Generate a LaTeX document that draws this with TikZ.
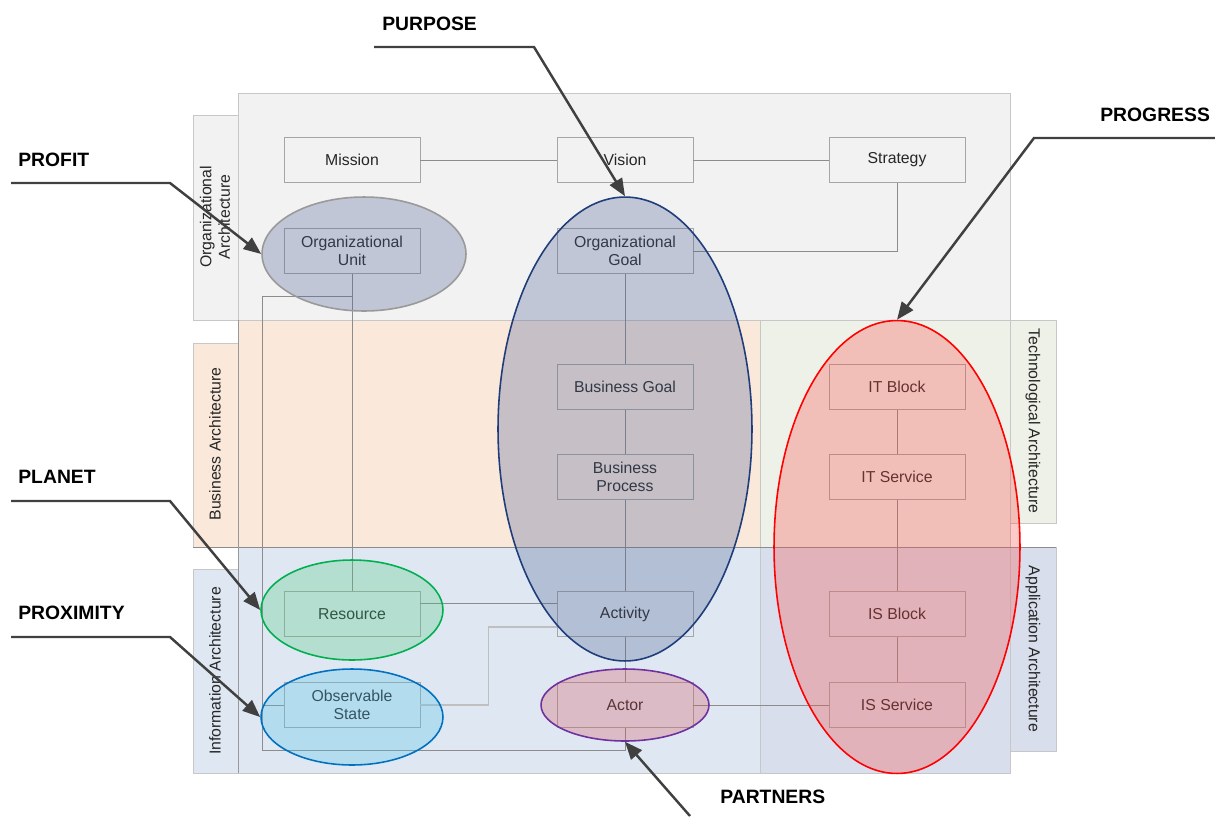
\documentclass[tikz,border=0pt]{standalone}
\usepackage{fontspec}
\setmainfont{Liberation Sans}
\usetikzlibrary{%
  arrows.meta,%
  calc,%
  shapes.geometric%
}
\definecolor{orgbg}{HTML}{F2F2F2}
\definecolor{busbg}{HTML}{FAE8DA}
\definecolor{techbg}{HTML}{EEF1E7}
\definecolor{infobg}{HTML}{DFE8F2}
\definecolor{appbg}{HTML}{D9DEEC}
\definecolor{purposefill}{RGB}{79,99,149}
\definecolor{purposeline}{HTML}{1F3D7A}
\definecolor{progressfill}{RGB}{250,78,74}
\definecolor{planetfill}{RGB}{79,199,132}
\definecolor{planetline}{HTML}{00B050}
\definecolor{proxfill}{RGB}{82,195,235}
\definecolor{proxline}{HTML}{0070C0}
\definecolor{partnerfill}{RGB}{212,85,95}
\definecolor{partnerline}{HTML}{7030A0}
\definecolor{callout}{HTML}{404040}
\tikzset{>={Triangle[length=10pt,width=8pt]}}
\tikzset{
  layer/.style={draw=black!22,line width=0.5pt},
  box/.style={draw=black!35,minimum width=2.72cm,minimum height=0.9cm,
    align=center,inner sep=1pt,text=black!85,font=\fontsize{9}{10.5}\selectfont},
  link/.style={draw=black!45,line width=0.5pt},
  blob/.style={ellipse,inner sep=0pt,line width=0.9pt,fill opacity=0.3},
  callarrow/.style={draw=callout,line width=1.4pt,->},
  tag/.style={anchor=west,inner sep=0pt,font=\bfseries\fontsize{11}{13}\selectfont},
  layertxt/.style={align=center,text=black!85,font=\fontsize{9}{10.5}\selectfont}
}

\begin{document}
\begin{tikzpicture}[x=0.02cm,y=-0.02cm]
    \useasboundingbox (0,0) rectangle (1215,816);
    % layers
    \filldraw[layer,fill=orgbg] (238,93) rectangle (1010,320);
    \filldraw[layer,fill=orgbg] (193,115) rectangle (238,320);
    \filldraw[layer,fill=busbg] (238,320) rectangle (760,547);
    \filldraw[layer,fill=busbg] (193,343) rectangle (238,547);
    \filldraw[layer,fill=techbg] (760,320) rectangle (1010,547);
    \filldraw[layer,fill=techbg] (1010,320) rectangle (1056,523);
    \filldraw[layer,fill=infobg] (238,547) rectangle (760,773);
    \filldraw[layer,fill=infobg] (193,569) rectangle (238,773);
    \filldraw[layer,fill=appbg] (760,547) rectangle (1010,773);
    \filldraw[layer,fill=appbg] (1010,547) rectangle (1056,751);
    \draw[black!45,line width=0.5pt] (193,547) -- (1056,547);
    \draw[black!40,line width=0.5pt] (238,320) -- (238,773);
    \node[layertxt,rotate=90] (orglbl) at (215,217) {Organizational\\Architecture};
    \node[layertxt,rotate=90] (buslbl) at (215,444) {Business Architecture};
    \node[layertxt,rotate=90] (infolbl) at (215,671) {Information Architecture};
    \node[layertxt,rotate=-90] (techlbl) at (1033,421) {Technological Architecture};
    \node[layertxt,rotate=-90] (applbl) at (1033,649) {Application Architecture};

    % concepts
    \node[box] (mission) at (352,160) {Mission};
    \node[box] (vision) at (625,160) {Vision};
    \node[box] (strategy) at (897,160) {Strategy};
    \node[box] (ounit) at (352,251) {Organizational\\Unit};
    \node[box] (ogoal) at (625,251) {Organizational\\Goal};
    \node[box] (bgoal) at (625,387) {Business Goal};
    \node[box] (bproc) at (625,477) {Business\\Process};
    \node[box] (activity) at (625,614) {Activity};
    \node[box] (actor) at (625,705) {Actor};
    \node[box] (resource) at (352,614) {Resource};
    \node[box] (state) at (352,705) {Observable\\State};
    \node[box] (itblock) at (897,387) {IT Block};
    \node[box] (itserv) at (897,477) {IT Service};
    \node[box] (isblock) at (897,614) {IS Block};
    \node[box] (isserv) at (897,705) {IS Service};

    \draw[link] (mission) -- (vision);
    \draw[link] (vision) -- (strategy);
    \draw[link] (strategy.south) |- (ogoal.east);
    \draw[link] (ogoal) -- (bgoal) -- (bproc) -- (activity) -- (actor);
    \draw[link] (actor.south) -- ++(0,23) -| ($(ounit.south)+(-90,23)$) -- ($(ounit.south)+(0,23)$);
    \draw[link] (ounit) -- (resource);
    \draw[link] ($(resource.east)+(0,-11)$) -- ($(activity.west)+(0,-11)$);
    \draw[black!25,line width=0.6pt] (state.east) -- ++(68,0) |- ($(activity.west)+(0,13)$);
    \draw[link] (state.west) -- ++(-22,0);
    \draw[link] (actor) -- (isserv);
    \draw[link] (itblock) -- (itserv) -- (isblock) -- (isserv);

    % groupings
    \node[blob,draw=black!40,fill=purposefill,minimum width=4.08cm,minimum height=2.28cm] (unitE) at (364,254) {};
    \node[blob,draw=purposeline,fill=purposefill,minimum width=5.08cm,minimum height=9.28cm] (purposeE) at (625,429) {};
    \node[blob,draw=red,fill=progressfill,minimum width=4.92cm,minimum height=9.06cm] (progressE) at (897,547) {};
    \node[blob,draw=planetline,fill=planetfill,minimum width=3.64cm,minimum height=2cm] (resourceE) at (352,610) {};
    \node[blob,draw=proxline,fill=proxfill,minimum width=3.64cm,minimum height=1.92cm] (stateE) at (352,717) {};
    \node[blob,draw=partnerline,fill=partnerfill,minimum width=3.36cm,minimum height=1.44cm] (actorE) at (625,705) {};

    % callouts
    \node[tag] (purpose) at (382,24) {PURPOSE};
    \node[tag] (profit) at (18,160) {PROFIT};
    \node[tag] (planet) at (18,477) {PLANET};
    \node[tag] (proximity) at (18,613) {PROXIMITY};
    \node[tag] (progress) at (1100,115) {PROGRESS};
    \node[tag] (partners) at (720,797) {PARTNERS};
    \coordinate (purposeS) at (374,47);
    \coordinate (profitS) at (11,183);
    \coordinate (planetS) at (11,501);
    \coordinate (proximityS) at (11,637);
    \coordinate (progressS) at (1215,138);
    \coordinate (partnersS) at (690,816);
    \draw[callarrow] (purposeS) -- ++(160,0) -- (purposeE.north);
    \draw[callarrow] (profitS) -- ++(159,0) -- (unitE.west);
    \draw[callarrow] (planetS) -- ++(159,0) -- (resourceE.west);
    \draw[callarrow] (proximityS) -- ++(159,0) -- (stateE.west);
    \draw[callarrow] (progressS) -- ++(-181,0) -- (progressE.north);
    \draw[callarrow] (partnersS) -- (actorE.south);
  \end{tikzpicture}
\end{document}
